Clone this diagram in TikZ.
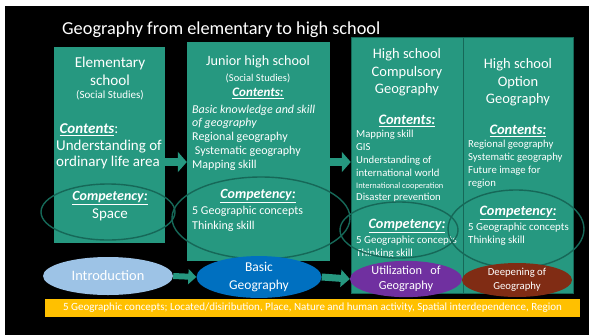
\documentclass[tikz,border=0pt]{standalone}
\usepackage{fontspec}
\setmainfont{Carlito}
\usetikzlibrary{shapes.geometric,arrows.meta}
\definecolor{tealbox}{RGB}{38,152,128}
\definecolor{tealline}{RGB}{22,104,88}
\definecolor{introblue}{RGB}{157,195,230}
\definecolor{basicblue}{RGB}{0,112,192}
\definecolor{utilpurple}{RGB}{112,48,160}
\definecolor{deepbrown}{RGB}{128,44,20}
\definecolor{barorange}{RGB}{255,192,0}
\newcommand{\hd}[1]{\underline{\textbf{\textit{#1}}}}
\begin{document}
\begin{tikzpicture}[x=1pt, y=-1pt,
    stagebox/.style={rectangle, fill=tealbox, inner sep=0pt},
    txt/.style={text=white, inner sep=0pt},
    compring/.style={ellipse, draw=tealline, line width=1.4pt, inner sep=0pt},
    stageoval/.style={ellipse, inner sep=0pt, text=white, align=center},
    blockarrow/.style={draw=tealbox, line width=8pt, -{Triangle[length=9pt, width=20pt]}}]
    \useasboundingbox (0,0) rectangle (589,335);
    \fill[white] (0,0) rectangle (589,335);
    \fill[black] (5,6) rectangle (589,335);

    \node [txt, anchor=west, font=\fontsize{18.3}{21}\selectfont] (title) at (62,30) {Geography from elementary to high school};

    % stage boxes
    \node [stagebox, minimum width=111pt, minimum height=196pt] (elem) at (109.5,145) {};
    \node [stagebox, minimum width=143pt, minimum height=219pt] (junior) at (258.5,151.5) {};
    \node [stagebox, draw=tealline, line width=0.5pt, minimum width=112pt, minimum height=256pt] (hscomp) at (407,165) {};
    \node [stagebox, draw=tealline, line width=0.5pt, minimum width=110pt, minimum height=256pt] (hsopt) at (518,165) {};

    % elementary school
    \node [txt, font=\fontsize{15.2}{18}\selectfont, align=center] (elemname) at (110,71) {Elementary\\school};
    \node [txt, font=\fontsize{11}{12}\selectfont] (elemsub) at (110,95) {(Social Studies)};
    \node [txt, anchor=west, font=\fontsize{15}{16.5}\selectfont, align=left] (elemcont) at (56,146.5) {\ \hd{Contents}:\\Understanding of\\ordinary life area};
    \node [txt, font=\fontsize{14}{17}\selectfont] (elemcomphd) at (110,198) {\hd{Competency:}};
    \node [txt, font=\fontsize{15}{17}\selectfont] (elemcomp) at (110,215) {Space};

    % junior high school
    \node [txt, font=\fontsize{14.2}{15}\selectfont] (junname) at (258,62) {Junior high school};
    \node [txt, font=\fontsize{10.5}{11}\selectfont] (junsub) at (258,78) {(Social Studies)};
    \node [txt, font=\fontsize{13}{15}\selectfont] (junconthd) at (258,93) {\hd{Contents:}};
    \node [txt, anchor=west, font=\fontsize{12}{14}\selectfont, align=left] (juncont) at (192,138) {\textit{Basic knowledge and skill}\\[-1pt]\textit{of geography}\\Regional geography\\\ Systematic geography\\Mapping skill};
    \node [txt, font=\fontsize{14}{15}\selectfont] (juncomphd) at (258,196) {\hd{Competency:}};
    \node [txt, anchor=west, font=\fontsize{12}{15}\selectfont, align=left] (juncomp) at (192,218.5) {5 Geographic concepts\\Thinking skill};

    % high school compulsory
    \node [txt, font=\fontsize{14.5}{17.5}\selectfont, align=center] (hscname) at (407,72.5) {High school\\Compulsory\\Geography};
    \node [txt, font=\fontsize{14.5}{15}\selectfont] (hscconthd) at (407,121) {\hd{Contents:}};
    \node [txt, anchor=west, font=\fontsize{10.7}{13}\selectfont, align=left] (hsccont) at (356,166) {Mapping skill\\GIS\\Understanding of\\international world\\[-1pt]{\fontsize{8.4}{9}\selectfont International cooperation}\\[-1pt]Disaster prevention};
    \node [txt, font=\fontsize{14.3}{15}\selectfont] (hsccomphd) at (407,226) {\hd{Competency:}};
    \node [txt, anchor=west, font=\fontsize{10.9}{12.5}\selectfont, align=left] (hsccomp) at (356,247) {5 Geographic concepts\\Thinking skill};

    % high school option
    \node [txt, font=\fontsize{14.5}{17.5}\selectfont, align=center] (hsoname) at (518,82.5) {High school\\Option\\Geography};
    \node [txt, font=\fontsize{14.5}{15}\selectfont] (hsoconthd) at (518,131) {\hd{Contents:}};
    \node [txt, anchor=west, font=\fontsize{10.7}{13}\selectfont, align=left] (hsocont) at (468,164.5) {Regional geography\\Systematic geography\\Future image for\\region};
    \node [txt, font=\fontsize{14.3}{15}\selectfont] (hsocomphd) at (518,213) {\hd{Competency:}};
    \node [txt, anchor=west, font=\fontsize{10.9}{13}\selectfont, align=left] (hsocomp) at (468,234.5) {5 Geographic concepts\\Thinking skill};

    % competency rings
    \node [compring, minimum width=134pt, minimum height=56pt] (ringA) at (108,212) {};
    \node [compring, minimum width=178pt, minimum height=82pt] (ringB) at (261,218) {};
    \node [compring, minimum width=118pt, minimum height=56pt] (ringC) at (399,230) {};
    \node [compring, minimum width=136pt, minimum height=78pt] (ringD) at (516,229) {};

    % stage ovals
    \node [stageoval, fill=introblue, minimum width=130pt, minimum height=38pt, font=\fontsize{14.4}{16}\selectfont] (intro) at (108,276) {Introduction};
    \node [stageoval, fill=basicblue, minimum width=125pt, minimum height=38pt, font=\fontsize{13.5}{18}\selectfont] (basic) at (259,277) {Basic\\Geography};
    \node [stageoval, fill=utilpurple, minimum width=112pt, minimum height=30pt, font=\fontsize{12.3}{15}\selectfont] (util) at (406,279) {Utilization\ \ \ of\\Geography};
    \node [stageoval, fill=deepbrown, minimum width=110pt, minimum height=34pt, font=\fontsize{10.7}{14}\selectfont] (deep) at (517,280) {Deepening of\\Geography};

    % arrows
    \coordinate (rowA) at (0,162);
    \draw [blockarrow] (elem.east |- rowA) -- (junior.west |- rowA);
    \draw [blockarrow] (junior.east |- rowA) -- (hscomp.west |- rowA);
    \draw [blockarrow, line width=6pt, -{Triangle[length=8pt, width=15pt]}] (intro.east) -- (basic.west);
    \draw [blockarrow, line width=7pt, -{Triangle[length=9pt, width=17pt]}] (basic.east) -- (util.west);

    % concepts bar
    \node [rectangle, fill=barorange, minimum width=535pt, minimum height=18pt, inner sep=0pt, text=white, font=\fontsize{11}{12}\selectfont] (bar) at (312.5,308) {5 Geographic concepts; Located/disiribution, Place, Nature and human activity, Spatial interdependence, Region};
\end{tikzpicture}
\end{document}
